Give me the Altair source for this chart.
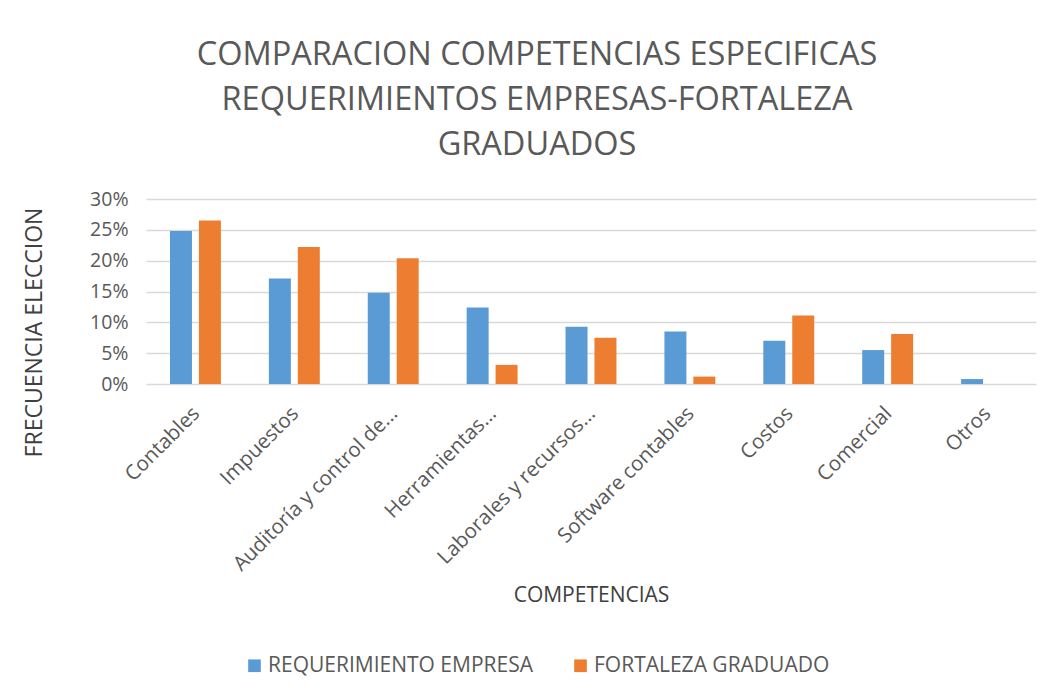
import altair as alt
import pandas as pd

categories = [
    "Contables",
    "Impuestos",
    "Auditoría y control de...",
    "Herramientas...",
    "Laborales y recursos...",
    "Software contables",
    "Costos",
    "Comercial",
    "Otros",
]
requerimiento = [0.248, 0.171, 0.148, 0.124, 0.093, 0.085, 0.070, 0.055, 0.008]
fortaleza = [0.265, 0.222, 0.204, 0.031, 0.075, 0.012, 0.111, 0.081, 0.0]
series = ["REQUERIMIENTO EMPRESA", "FORTALEZA GRADUADO"]
colors = ["#5B9BD5", "#ED7D31"]
y_ticks = [0, 0.05, 0.10, 0.15, 0.20, 0.25, 0.30]
title_lines = [
    "COMPARACION COMPETENCIAS ESPECIFICAS",
    "REQUERIMIENTOS EMPRESAS-FORTALEZA",
    "GRADUADOS",
]

rows = []
for c, r, f in zip(categories, requerimiento, fortaleza):
    rows.append({"cat": c, "serie": series[0], "valor": r})
    rows.append({"cat": c, "serie": series[1], "valor": f})
df = pd.DataFrame(rows)

FONT = "Open Sans"

chart = alt.Chart(df).mark_bar().encode(
    x=alt.X(
        "cat:N",
        sort=categories,
        scale=alt.Scale(paddingInner=0.485, paddingOuter=0.2425),
        axis=alt.Axis(
            title="COMPETENCIAS",
            labelAngle=-45,
            labelAlign="right",
            labelBaseline="top",
            labelPadding=19,
            labelOffset=-6,
            ticks=False,
            tickSize=0,
            domain=False,
            labelFont=FONT,
            labelFontSize=20.5,
            labelColor="#595959",
            labelLimit=400,
            titleFont=FONT,
            titleFontSize=21,
            titleFontWeight="normal",
            titleColor="#404040",
            titleY=217,
            titleBaseline="alphabetic",
        ),
    ),
    xOffset=alt.XOffset(
        "serie:N", sort=series, scale=alt.Scale(paddingInner=0.24, paddingOuter=0)
    ),
    y=alt.Y(
        "valor:Q",
        scale=alt.Scale(domain=[0, 0.3]),
        axis=alt.Axis(
            values=y_ticks,
            format=".0%",
            title="FRECUENCIA ELECCION",
            ticks=False,
            tickSize=0,
            domain=False,
            labelPadding=18,
            labelFont=FONT,
            labelFontSize=19.5,
            labelColor="#595959",
            gridColor="#d9d9d9",
            gridWidth=1.5,
            titleFont=FONT,
            titleFontSize=23,
            titleFontWeight="normal",
            titleColor="#404040",
            titleX=-112,
            titleY=133,
            titleAngle=-90,
            titleAlign="center",
            titleBaseline="middle",
        ),
    ),
    color=alt.Color(
        "serie:N",
        sort=series,
        scale=alt.Scale(domain=series, range=colors),
        legend=alt.Legend(
            title=None,
            orient="none",
            legendX=98,
            legendY=456,
            direction="horizontal",
            symbolType="square",
            symbolSize=160,
            symbolStrokeWidth=0,
            labelFont=FONT,
            labelFontSize=21,
            labelColor="#595959",
            labelLimit=400,
            labelOffset=3,
            columnPadding=37,
        ),
    ),
).properties(
    width=890,
    height=185,
    padding={"left": 14, "top": 30, "right": 5, "bottom": 5},
    title=alt.TitleParams(
        text=title_lines,
        font=FONT,
        fontSize=32.5,
        fontWeight="normal",
        color="#595959",
        lineHeight=45,
        anchor="middle",
        frame="group",
        dx=-54,
        offset=28,
    ),
).configure_view(stroke=None)

chart.save("out.html", embed_options={"renderer": "svg", "actions": False})
